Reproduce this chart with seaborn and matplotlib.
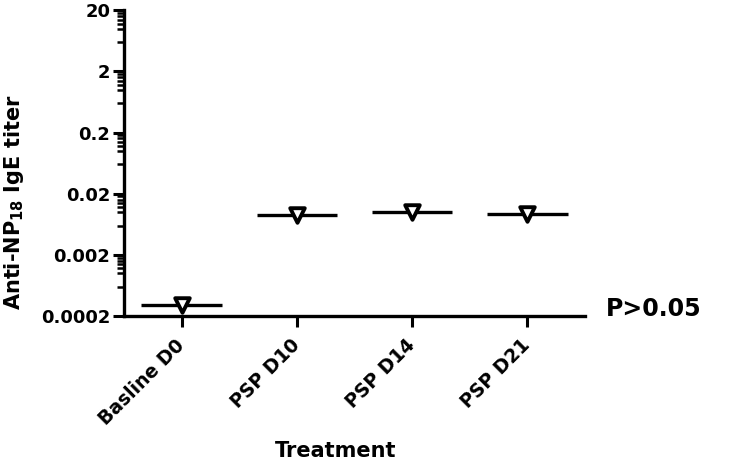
import matplotlib
matplotlib.use("Agg")
import matplotlib.pyplot as plt
import matplotlib.ticker as mticker
import pandas as pd
import seaborn as sns

# data
groups = ["Basline D0", "PSP D10", "PSP D14", "PSP D21"]
titer = [0.0003, 0.0091, 0.0100, 0.0092]
major_ticks = [0.0002, 0.002, 0.02, 0.2, 2, 20]
tick_labels = ["0.0002", "0.002", "0.02", "0.2", "2", "20"]

sns.set_style("ticks")
plt.rcParams["font.family"] = ["DejaVu Sans"]
plt.rcParams["font.weight"] = "bold"
plt.rcParams["mathtext.default"] = "bf"
plt.rcParams["text.color"] = "black"
plt.rcParams["axes.labelcolor"] = "black"

df = pd.DataFrame({"Treatment": groups, "titer": titer})

fig, ax = plt.subplots(figsize=(7.34, 4.63), dpi=100)
fig.subplots_adjust(left=0.169, right=0.797, bottom=0.3175, top=0.978)
ax.set_yscale("log")

# mean lines
means = df.groupby("Treatment", sort=False)["titer"].mean().reindex(groups)
for i, m in enumerate(means):
    ax.hlines(m, i - 0.35, i + 0.35, color="black", lw=2.4, zorder=2)

sns.stripplot(data=df, x="Treatment", y="titer", order=groups, jitter=False,
              marker="v", size=10.5, color="white", edgecolor="black",
              linewidth=2.8, ax=ax, zorder=3)

ax.set_xlim(-0.5, 3.5)
ax.set_ylim(0.0002, 20)
ax.set_yticks(major_ticks, tick_labels)
minor = [m * k for m in major_ticks[:-1] for k in (3, 5, 6, 7, 8, 9)]
ax.yaxis.set_minor_locator(mticker.FixedLocator(minor))
ax.yaxis.set_minor_formatter(mticker.NullFormatter())

sns.despine(ax=ax)
for s in ["left", "bottom"]:
    ax.spines[s].set_linewidth(2.4)
    ax.spines[s].set_color("black")
ax.tick_params(which="major", direction="out", length=8, width=2.2, labelsize=13, colors="black", pad=2)
ax.tick_params(axis="x", which="major", pad=11)
ax.tick_params(which="minor", direction="out", length=5, width=1.8, colors="black")
plt.setp(ax.get_xticklabels(), rotation=45, ha="right", va="center", rotation_mode="anchor", fontsize=13.5)

ax.set_xlabel("Treatment", fontsize=15, fontweight="bold")
ax.set_ylabel("Anti-NP$_{18}$ IgE titer", fontsize=15, fontweight="bold")
ax.xaxis.set_label_coords(0.458, -0.41)
ax.yaxis.set_label_coords(-0.213, 0.373)

ax.text(1.045, 0.0, "P>0.05", transform=ax.transAxes, ha="left", va="baseline",
        fontsize=17, fontweight="bold")

fig.savefig("out.png", dpi=100)
